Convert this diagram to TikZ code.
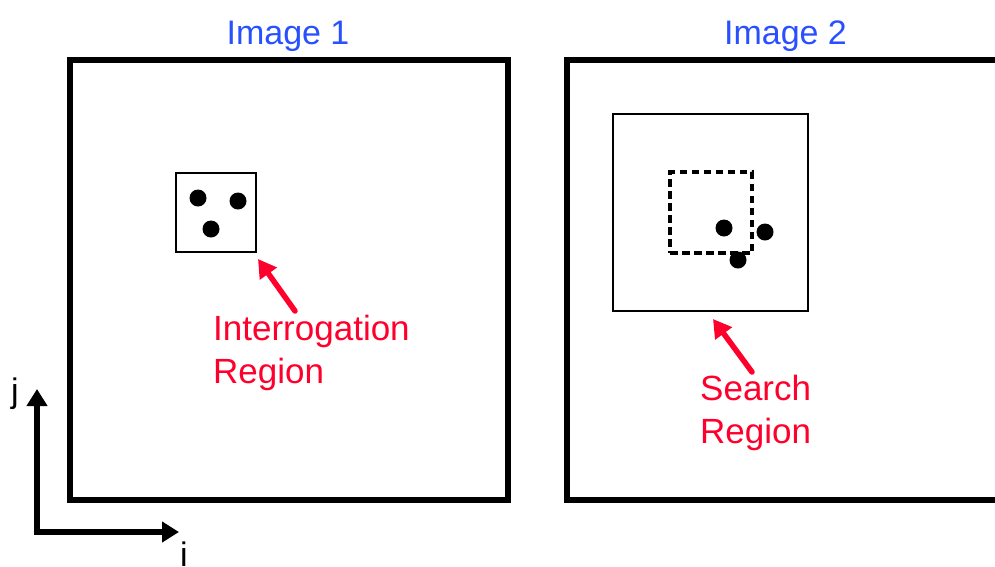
\documentclass[tikz,border=0pt]{standalone}
\usepackage{fontspec}
\setmainfont{Liberation Sans}
\usetikzlibrary{arrows.meta}
\definecolor{lblred}{RGB}{255,0,45}
\definecolor{lblblue}{RGB}{40,80,255}

\begin{document}
\begin{tikzpicture}[x=1pt,y=-1pt,
  frame/.style={draw, line width=5.5pt, inner sep=0pt, outer sep=0pt},
  winbox/.style={draw, line width=1.3pt, inner sep=0pt, outer sep=0pt},
  dashbox/.style={draw, line width=3.2pt, dash pattern=on 7.5pt off 4.5pt, inner sep=0pt, outer sep=0pt},
  particle/.style={circle, fill=black, inner sep=0pt, minimum size=17pt},
  pointer/.style={lblred, line width=5.5pt, line cap=round, -{Triangle[length=18pt,width=20pt]}},
  axis/.style={line width=6.5pt, line join=miter, {Triangle[length=17pt,width=20pt]}-{Triangle[length=17pt,width=20pt]}},
  title/.style={lblblue, font=\fontsize{34}{40}\selectfont, anchor=base, inner sep=0pt},
  note/.style={lblred, font=\fontsize{35}{43}\selectfont, align=left, inner sep=0pt, anchor=base west},
  axislabel/.style={font=\fontsize{34}{40}\selectfont, anchor=base, inner sep=0pt},
]
\useasboundingbox (0,0) rectangle (995,566);
\clip (0,0) rectangle (995,566);

% the two image frames (the second runs past the right edge)
\node[frame, minimum width=438, minimum height=440] (img1) at (289,280) {};
\node[frame, minimum width=443, minimum height=440] (img2) at (788.5,280) {};
\node[title] (t1) at (288,44) {Image 1};
\node[title] (t2) at (785.5,44) {Image 2};

% image 1: interrogation window with its particles
\node[winbox, minimum width=80, minimum height=79] (iw) at (216,212.5) {};
\node[particle] (p1) at (198,198) {};
\node[particle] (p2) at (238,201) {};
\node[particle] (p3) at (211,229) {};

% image 2: search window, displaced window and moved particles
\node[winbox, minimum width=195, minimum height=197] (sw) at (710.5,212.5) {};
\node[dashbox, minimum width=82, minimum height=81] (dw) at (711,212.5) {};
\node[particle] (q1) at (724,228) {};
\node[particle] (q2) at (765,232) {};
\node[particle] (q3) at (738,260) {};

% labels and pointers (base anchor sits on the last line)
\node[note] (ilab) at (213,383) {Interrogation\\Region};
\node[note] (slab) at (700,443) {Search\\Region};
\coordinate (itail) at (295,311);
\coordinate (itip) at (258,259);
\coordinate (stail) at (752,372);
\coordinate (stip) at (713,319);
\draw[pointer] (itail) -- (itip);
\draw[pointer] (stail) -- (stip);

% coordinate axes
\coordinate (jend) at (37,389);
\coordinate (origin) at (37,532);
\coordinate (iend) at (179,532);
\draw[axis] (jend) -- (origin) -- (iend);
\node[axislabel] (jlab) at (15,402) {j};
\node[axislabel] (ilab2) at (184,566) {i};
\end{tikzpicture}
\end{document}
